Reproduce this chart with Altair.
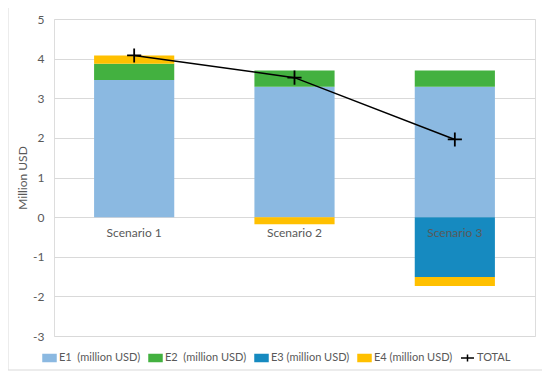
import altair as alt
import pandas as pd

scenarios = ["Scenario 1", "Scenario 2", "Scenario 3"]
e1 = [3.46, 3.29, 3.29]
e2 = [0.41, 0.41, 0.41]
e3 = [0.0, 0.0, -1.51]
e4 = [0.21, -0.18, -0.23]
total = [4.08, 3.52, 1.96]
y_ticks = [-3, -2, -1, 0, 1, 2, 3, 4, 5]

series_names = ["E1 \u00a0(million USD)", "E2 \u00a0(million USD)", "E3 (million USD)", "E4 (million USD)", "TOTAL"]
series_colors = ["#8BB9E1", "#43B140", "#168AC0", "#FFC000", "#000000"]

rows = []
for i, s in enumerate(scenarios):
    for k, vals in enumerate([e1, e2, e3, e4]):
        if vals[i] != 0:
            rows.append({"scenario": s, "series": series_names[k], "order": k, "value": vals[i]})
bars_df = pd.DataFrame(rows)
tot_df = pd.DataFrame({"scenario": scenarios, "value": total, "series": ["TOTAL"] * 3})
lab_df = pd.DataFrame({"scenario": scenarios})
frame_df = pd.DataFrame({"a": [0]})

FONT = "Lato"
GRAY = "#595959"

xscale = alt.Scale(domain=scenarios, paddingInner=0.5, paddingOuter=0.25)
yscale = alt.Scale(domain=[-3, 5], nice=False)
cscale = alt.Scale(domain=series_names, range=series_colors)

yaxis = alt.Axis(values=y_ticks, title="Million USD", labelOverlap=False, labelExpr="'' + datum.value",
                 domain=False, ticks=False, gridColor="#D9D9D9", labelColor=GRAY,
                 labelFont=FONT, labelFontSize=12, labelPadding=10,
                 titleFont=FONT, titleFontSize=12, titleColor=GRAY,
                 titleFontWeight="normal", titleX=-32, titleBaseline="middle")

cross = "M-1,0H1M0,-1V1"
is_tot = "datum.label === 'TOTAL'"

legend = alt.Legend(orient="none", legendX=-12, legendY=331, direction="horizontal",
                    columns=5, columnPadding=5, labelFont=FONT, labelFontSize=11,
                    labelColor=GRAY, symbolSize=169, labelOffset=2,
                    symbolType={"expr": f"{is_tot} ? 'M-1,0H1M0,-0.55V0.55' : 'M-1,-0.55H1V0.55H-1Z'"},
                    symbolFillColor={"expr": f"{is_tot} ? 'transparent' : scale('color', datum.value)"},
                    symbolStrokeColor={"expr": f"{is_tot} ? '#000000' : 'transparent'"},
                    symbolStrokeWidth=1.5, symbolOpacity=1)

bars = alt.Chart(bars_df).mark_bar().encode(
    x=alt.X("scenario:N", scale=xscale, axis=None),
    y=alt.Y("value:Q", scale=yscale, stack="zero", axis=yaxis),
    color=alt.Color("series:N", scale=cscale, title=None, legend=legend),
    order=alt.Order("order:Q"),
)

line = alt.Chart(tot_df).mark_line(color="black", strokeWidth=1.5).encode(
    x=alt.X("scenario:N", scale=xscale, axis=None),
    y=alt.Y("value:Q", scale=yscale, axis=yaxis),
    color=alt.Color("series:N", scale=cscale, title=None, legend=legend),
)

pts = alt.Chart(tot_df).mark_point(shape=cross, size=200, strokeWidth=1.8, filled=False, opacity=1).encode(
    x=alt.X("scenario:N", scale=xscale, axis=None),
    y=alt.Y("value:Q", scale=yscale, axis=yaxis),
    color=alt.Color("series:N", scale=cscale, title=None, legend=legend),
)

labels = alt.Chart(lab_df).mark_text(dy=16, font=FONT, fontSize=12, color=GRAY).encode(
    x=alt.X("scenario:N", scale=xscale, axis=None),
    y=alt.datum(0, scale=yscale, axis=yaxis),
    text="scenario:N",
)

frame = alt.Chart(frame_df).mark_rect(fillOpacity=0, stroke="#D9D9D9", strokeWidth=1).encode(
    x=alt.value(-46), x2=alt.value(489), y=alt.value(-12), y2=alt.value(351),
)

chart = alt.layer(frame, bars, line, pts, labels).properties(
    width=481, height=317,
    autosize=alt.AutoSizeParams(type="none"),
    padding={"left": 46, "top": 11, "right": 7, "bottom": 36},
).configure_view(stroke=None).configure(background="white")

chart.save("out.html", embed_options={"renderer": "svg", "actions": False})
